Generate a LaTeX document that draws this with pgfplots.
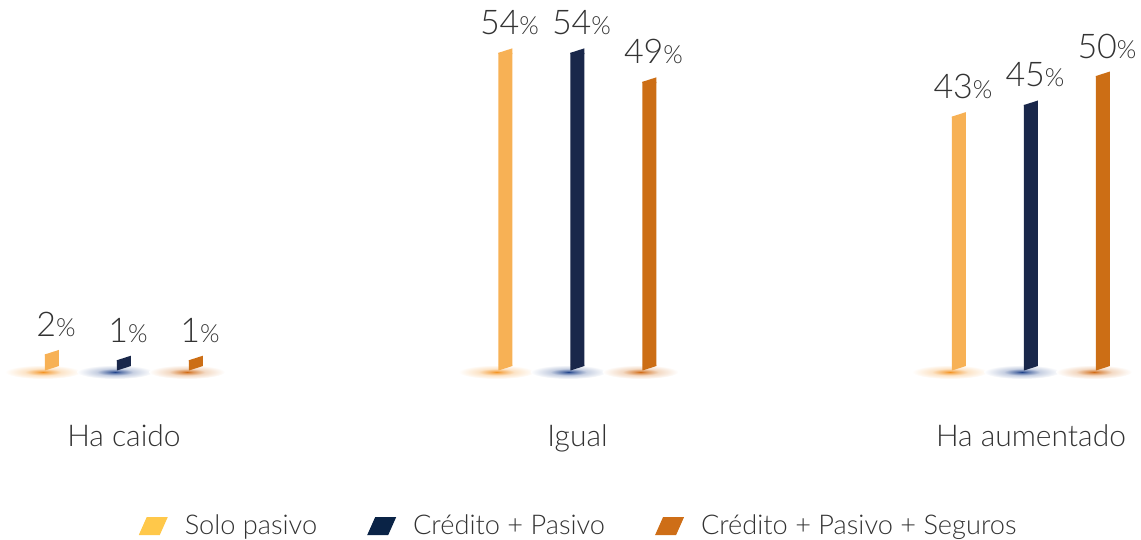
\documentclass[border=0pt]{standalone}
\usepackage{fontspec}
\setmainfont{Lato}[UprightFont={* Light}]
\usepackage{pgfplots}
\usepackage{pgfplotstable}
\pgfplotsset{compat=1.18}

\definecolor{cSolo}{HTML}{F7B155}
\definecolor{cCred}{HTML}{19274A}
\definecolor{cSeg}{HTML}{CC6E15}
\definecolor{lSolo}{HTML}{FFC84A}
\definecolor{lCred}{HTML}{0A2346}
\definecolor{lSeg}{HTML}{CE6E17}
\definecolor{gSolo}{HTML}{F39322}
\definecolor{gCred}{HTML}{1F428A}
\definecolor{gSeg}{HTML}{D06A14}
\colorlet{gSoloA}{gSolo!70!white}
\colorlet{gCredA}{gCred!70!white}
\colorlet{gSegA}{gSeg!70!white}
\colorlet{gSoloM}{gSolo!25!white}
\colorlet{gCredM}{gCred!25!white}
\colorlet{gSegM}{gSeg!25!white}
\definecolor{txt}{HTML}{333333}

% soft glow under each bar
\pgfdeclareradialshading{shSolo}{\pgfpointorigin}{color(0bp)=(gSolo); color(4bp)=(gSoloA); color(12bp)=(gSoloM); color(25bp)=(white); color(50bp)=(white)}
\pgfdeclareradialshading{shCred}{\pgfpointorigin}{color(0bp)=(gCred); color(4bp)=(gCredA); color(12bp)=(gCredM); color(25bp)=(white); color(50bp)=(white)}
\pgfdeclareradialshading{shSeg}{\pgfpointorigin}{color(0bp)=(gSeg); color(4bp)=(gSegA); color(12bp)=(gSegM); color(25bp)=(white); color(50bp)=(white)}
\pgfdeclareplotmark{glowSolo}{\pgfpathellipse{\pgfpoint{-4.5pt}{-3pt}}{\pgfpoint{19pt}{0pt}}{\pgfpoint{0pt}{3.5pt}}\pgfshadepath{shSolo}{0}\pgfusepath{}}
\pgfdeclareplotmark{glowCred}{\pgfpathellipse{\pgfpoint{-4.5pt}{-3pt}}{\pgfpoint{19pt}{0pt}}{\pgfpoint{0pt}{3.5pt}}\pgfshadepath{shCred}{0}\pgfusepath{}}
\pgfdeclareplotmark{glowSeg}{\pgfpathellipse{\pgfpoint{-4.5pt}{-3pt}}{\pgfpoint{19pt}{0pt}}{\pgfpoint{0pt}{3.5pt}}\pgfshadepath{shSeg}{0}\pgfusepath{}}
% slanted caps that turn each bar into a parallelogram
\pgfdeclareplotmark{captop}{\pgfpathmoveto{\pgfpoint{-3.5pt}{-0.6pt}}\pgfpathlineto{\pgfpoint{3.5pt}{-0.6pt}}\pgfpathlineto{\pgfpoint{3.5pt}{2.25pt}}\pgfpathlineto{\pgfpoint{-3.5pt}{0pt}}\pgfpathclose\pgfusepathqfill}
\pgfdeclareplotmark{capbot}{\pgfpathmoveto{\pgfpoint{-3.5pt}{0.6pt}}\pgfpathlineto{\pgfpoint{3.5pt}{0.6pt}}\pgfpathlineto{\pgfpoint{3.5pt}{0pt}}\pgfpathlineto{\pgfpoint{-3.5pt}{-2.25pt}}\pgfpathclose\pgfusepathqfill}

\pgfplotsset{
    pct/.style={
        nodes near coords={\pgfmathprintnumber{\pgfplotspointmeta}{\fontsize{12.5}{13}\selectfont\%}},
        every node near coord/.append style={font=\fontsize{17}{17}\selectfont, text=txt, anchor=base, yshift=9pt, xshift=#1},
    },
    legpar/.style={legend image code/.code={\fill[#1] (0pt,-4.5pt) -- (10.5pt,-4.5pt) -- (14.5pt,4.5pt) -- (4pt,4.5pt) -- cycle; \path (21pt,0pt);}},
}

\pgfplotstableread{
x y
0 2
1 54
2 43
}\solo
\pgfplotstableread{
x y
0 1
1 54
2 45
}\credito
\pgfplotstableread{
x y
0 1
1 49
2 50
}\seguros

\begin{document}
\begin{tikzpicture}
\begin{axis}[
    at={(0pt,87pt)}, anchor=south west,
    scale only axis,
    width=570.5pt, height=174pt,
    xmin=-0.2734, xmax=2.2426,
    ymin=0, ymax=60,
    clip=false,
    axis line style={draw=none},
    tick style={draw=none},
    ytick=\empty,
    xtick={0,1,2},
    xticklabels={Ha caido, Igual, Ha aumentado},
    xticklabel style={font=\fontsize{15}{15}\selectfont, text=txt, anchor=base, yshift=-40.5pt},
    /pgf/number format/assume math mode=true,
    legend columns=3,
    legend cell align=left,
    legend style={at={(axis description cs:0.508,-0.46)}, anchor=center, draw=none, fill=none,
        font=\fontsize{13.6}{14}\selectfont, text=txt,
        /tikz/every even column/.append style={column sep=23pt}},
]
% glows
\addplot[only marks, mark=glowSolo, mark options={xshift=-36pt}, forget plot] table[x=x, y expr=0] {\solo};
\addplot[only marks, mark=glowCred, forget plot] table[x=x, y expr=0] {\credito};
\addplot[only marks, mark=glowSeg, mark options={xshift=36pt}, forget plot] table[x=x, y expr=0] {\seguros};

% bars
\addplot[ybar, /pgf/bar width=7pt, /pgf/bar shift=-36pt, fill=cSolo, draw=none, pct=-34pt, legpar=lSolo]
    table[x=x, y=y] {\solo};
\addlegendentry{Solo pasivo}
\addplot[ybar, /pgf/bar width=7pt, /pgf/bar shift=0pt, fill=cCred, draw=none, pct=2pt, legpar=lCred]
    table[x=x, y=y] {\credito};
\addlegendentry{Crédito + Pasivo}
\addplot[ybar, /pgf/bar width=7pt, /pgf/bar shift=36pt, fill=cSeg, draw=none, pct=38pt, legpar=lSeg]
    table[x=x, y=y] {\seguros};
\addlegendentry{Crédito + Pasivo + Seguros}

% caps
\addplot[only marks, mark=captop, color=cSolo, mark options={xshift=-36pt}, forget plot] table[x=x, y=y] {\solo};
\addplot[only marks, mark=captop, color=cCred, forget plot] table[x=x, y=y] {\credito};
\addplot[only marks, mark=captop, color=cSeg, mark options={xshift=36pt}, forget plot] table[x=x, y=y] {\seguros};
\addplot[only marks, mark=capbot, color=cSolo, mark options={xshift=-36pt}, forget plot] table[x=x, y expr=0] {\solo};
\addplot[only marks, mark=capbot, color=cCred, forget plot] table[x=x, y expr=0] {\credito};
\addplot[only marks, mark=capbot, color=cSeg, mark options={xshift=36pt}, forget plot] table[x=x, y expr=0] {\seguros};
\end{axis}
\pgfresetboundingbox
\useasboundingbox (0,0) rectangle (570.5pt,270pt);
\end{tikzpicture}
\end{document}
